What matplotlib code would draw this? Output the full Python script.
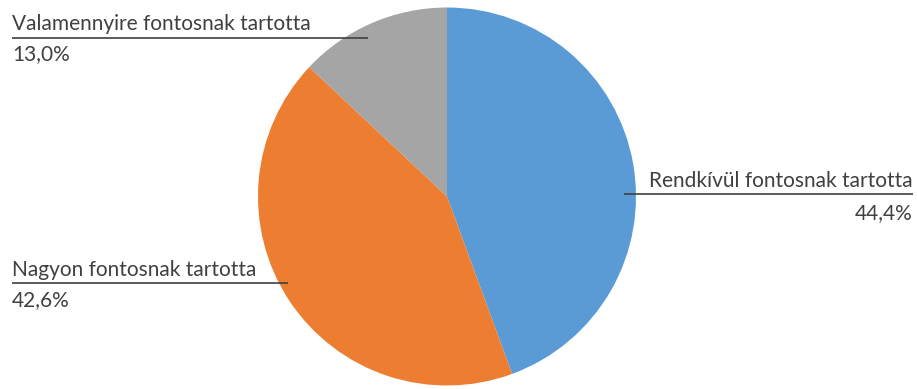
import matplotlib
matplotlib.use("Agg")
import matplotlib.pyplot as plt

labels = ["Rendkívül fontosnak tartotta", "Nagyon fontosnak tartotta", "Valamennyire fontosnak tartotta"]
values = [44.4, 42.6, 13.0]
colors = ["#5B9BD5", "#ED7D31", "#A5A5A5"]

W, H = 917, 389
fig = plt.figure(figsize=(W / 100, H / 100), dpi=100)
ax = fig.add_axes([0, 0, 1, 1])
ax.set_xlim(0, W)
ax.set_ylim(0, H)
ax.set_aspect("equal")
ax.axis("off")

ax.pie(values, colors=colors, startangle=90, counterclock=False,
       center=(447, H - 196.5), radius=189, wedgeprops=dict(linewidth=0))
ax.set_xlim(0, W)
ax.set_ylim(0, H)

txt = "#404040"
font = dict(family="Lato", size=15, color=txt)

def pct(v):
    return f"{v:.1f}%".replace(".", ",")

# (text x, label baseline, line y, pct baseline, line x0, line x1, align)
layout = [
    (913, 187, 194, 219, 624, 913, "right"),
    (12, 276, 283, 306, 12, 288, "left"),
    (12, 30, 37.5, 60, 12, 368, "left"),
]

for lab, v, (tx, yb, yl, yp, x0, x1, ha) in zip(labels, values, layout):
    ax.text(tx, H - yb, lab, ha=ha, va="baseline", **font)
    ax.text(tx, H - yp, pct(v), ha=ha, va="baseline", **font)
    ax.plot([x0, x1], [H - yl, H - yl], color="#404040", lw=1.2, solid_capstyle="butt")

fig.savefig("out.png", dpi=100)
